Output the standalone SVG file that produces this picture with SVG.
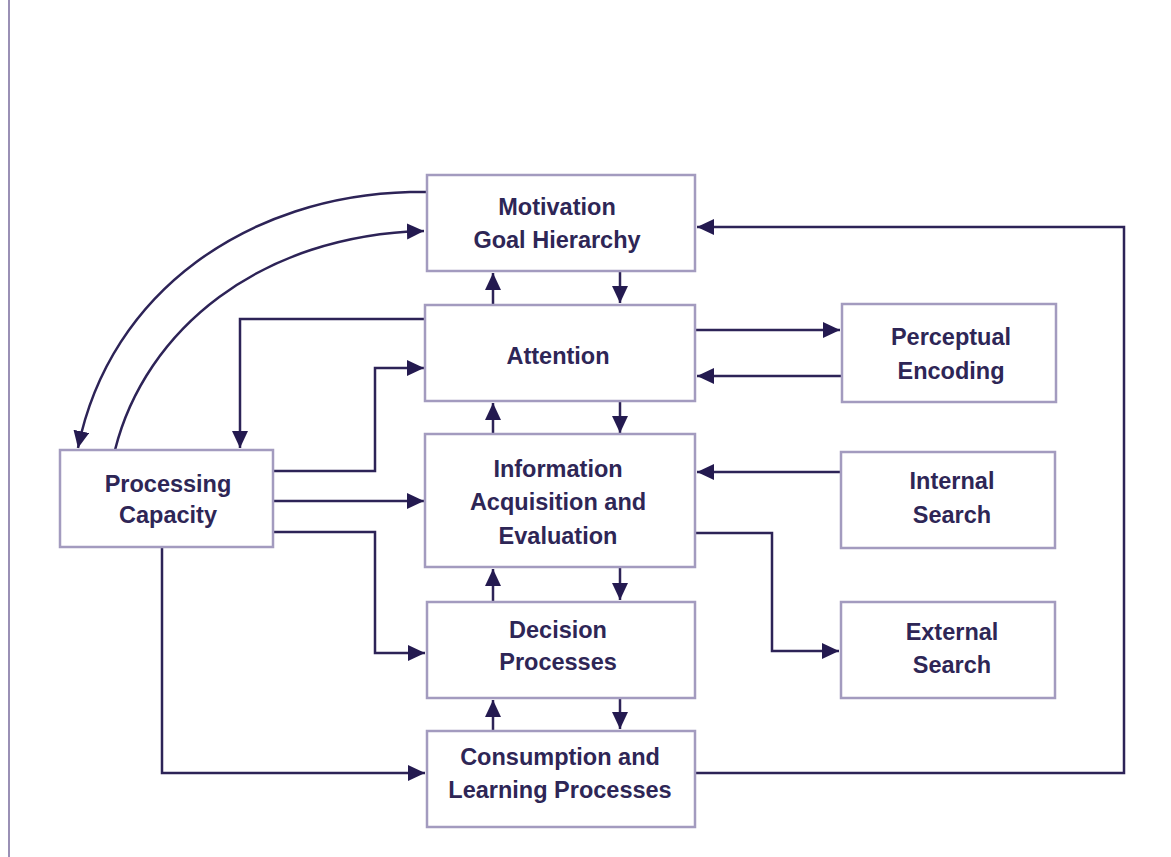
<svg xmlns="http://www.w3.org/2000/svg" width="1171" height="857" viewBox="0 0 1171 857">
<style>
.box{fill:#ffffff;stroke:#a39bbf;stroke-width:2.5}
.lbl{font-family:"Liberation Sans",Arial,sans-serif;font-weight:bold;font-size:23.5px;fill:#2e2656;text-anchor:middle}
.c{fill:none;stroke:#2d2357;stroke-width:2.5;marker-end:url(#ah)}
</style>
<defs>
<marker id="ah" markerUnits="userSpaceOnUse" markerWidth="19" markerHeight="18" refX="17" refY="8" orient="auto">
<path d="M0,0 L17,8 L0,16 z" fill="#241a50"/>
</marker>
</defs>
<rect x="0" y="0" width="1171" height="857" fill="#ffffff"/>
<line x1="9" y1="0" x2="9" y2="857" stroke="#9a90b5" stroke-width="2"/>

<g id="connectors">
<path class="c" d="M 426 192 L 410 192 C 250 196, 110 290, 78 448"/>
<path class="c" d="M 115 450 C 145 330, 260 235, 424 231"/>
<path class="c" d="M 426 319 L 240 319 L 240 448"/>
<path class="c" d="M 273 471 L 375 471 L 375 368 L 424 368"/>
<path class="c" d="M 273 501 L 424 501"/>
<path class="c" d="M 273 532 L 375 532 L 375 653 L 425 653"/>
<path class="c" d="M 162 547 L 162 773 L 425 773"/>
<path class="c" d="M 695 773 L 1124 773 L 1124 227 L 697 227"/>
<path class="c" d="M 695 330 L 840 330"/>
<path class="c" d="M 842 376 L 697 376"/>
<path class="c" d="M 841 472 L 697 472"/>
<path class="c" d="M 695 533 L 772 533 L 772 651 L 839 651"/>
<path class="c" d="M 493 304 L 493 273"/>
<path class="c" d="M 620 271 L 620 303"/>
<path class="c" d="M 493 434 L 493 403"/>
<path class="c" d="M 620 402 L 620 433"/>
<path class="c" d="M 493 601 L 493 569"/>
<path class="c" d="M 620 568 L 620 600"/>
<path class="c" d="M 493 730 L 493 700"/>
<path class="c" d="M 620 698 L 620 729"/>
</g>

<g id="motivation">
<rect class="box" x="427" y="175" width="268" height="96"/>
<text class="lbl" x="557" y="215">Motivation</text>
<text class="lbl" x="557" y="248">Goal Hierarchy</text>
</g>
<g id="attention">
<rect class="box" x="425" y="305" width="270" height="96"/>
<text class="lbl" x="558" y="364">Attention</text>
</g>
<g id="information">
<rect class="box" x="425" y="434" width="270" height="133"/>
<text class="lbl" x="558" y="477">Information</text>
<text class="lbl" x="558" y="510">Acquisition and</text>
<text class="lbl" x="558" y="544">Evaluation</text>
</g>
<g id="decision">
<rect class="box" x="427" y="602" width="268" height="96"/>
<text class="lbl" x="558" y="638">Decision</text>
<text class="lbl" x="558" y="670">Processes</text>
</g>
<g id="consumption">
<rect class="box" x="427" y="731" width="268" height="96"/>
<text class="lbl" x="560" y="765">Consumption and</text>
<text class="lbl" x="560" y="798">Learning Processes</text>
</g>
<g id="processing">
<rect class="box" x="60" y="450" width="213" height="97"/>
<text class="lbl" x="168" y="492">Processing</text>
<text class="lbl" x="168" y="523">Capacity</text>
</g>
<g id="perceptual">
<rect class="box" x="842" y="304" width="214" height="98"/>
<text class="lbl" x="951" y="345">Perceptual</text>
<text class="lbl" x="951" y="379">Encoding</text>
</g>
<g id="internal">
<rect class="box" x="841" y="452" width="214" height="96"/>
<text class="lbl" x="952" y="489">Internal</text>
<text class="lbl" x="952" y="523">Search</text>
</g>
<g id="external">
<rect class="box" x="841" y="602" width="214" height="96"/>
<text class="lbl" x="952" y="640">External</text>
<text class="lbl" x="952" y="673">Search</text>
</g>
</svg>
